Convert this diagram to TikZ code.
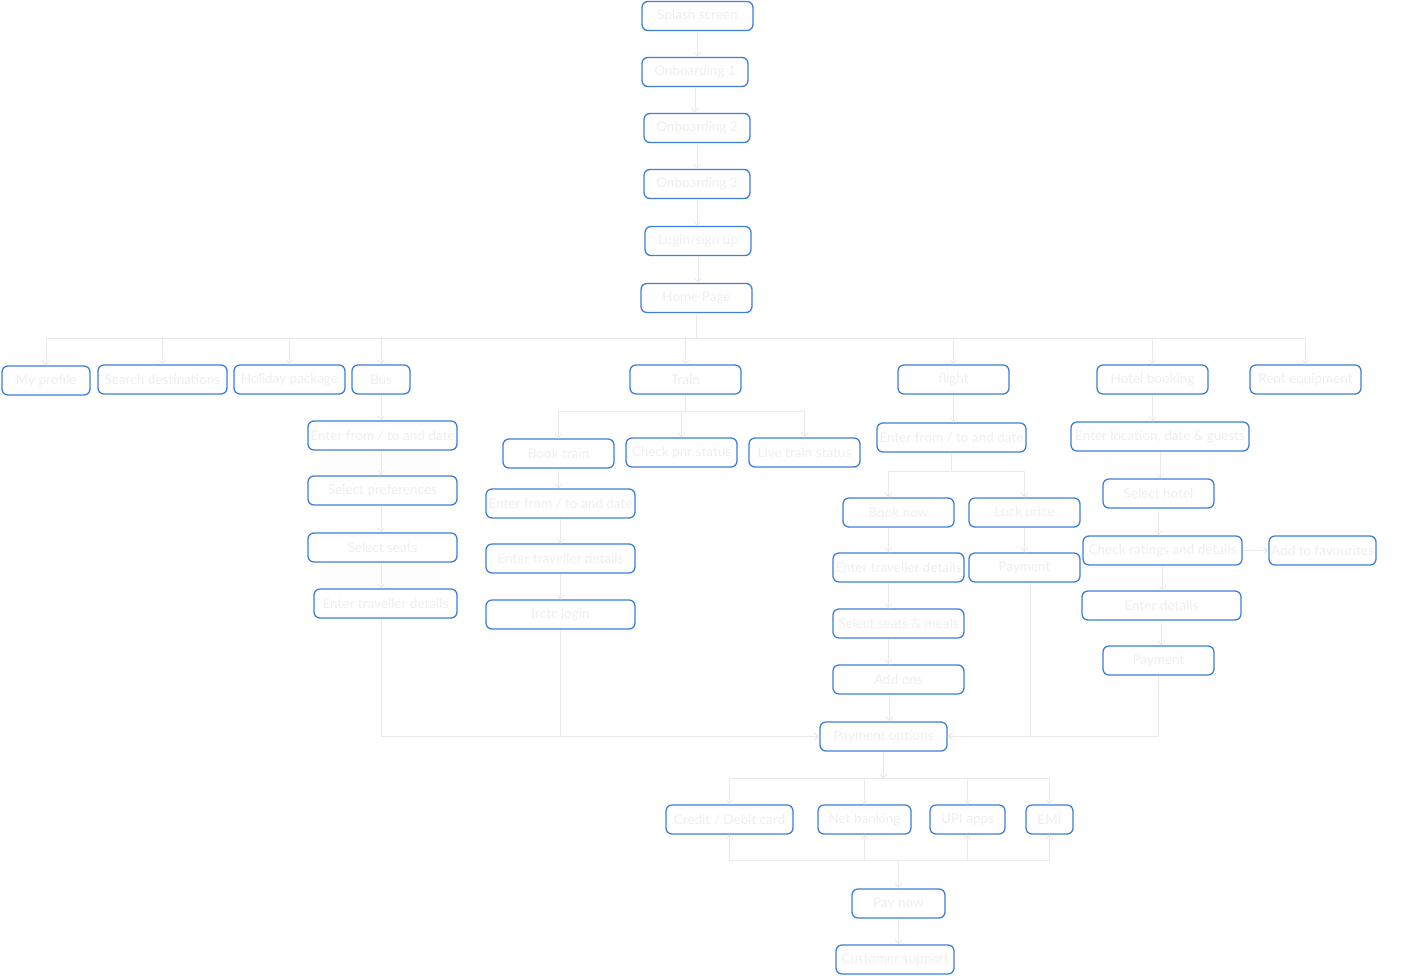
\documentclass[tikz,border=0pt]{standalone}
\usepackage{fontspec}
\setmainfont{Lato}
\usetikzlibrary{arrows.meta,positioning}
\definecolor{edge}{HTML}{3D7EDB}
\definecolor{txt}{HTML}{EFEFEF}
\definecolor{wire}{HTML}{EAEAEA}
\begin{document}
\begin{tikzpicture}[
  x=1pt, y=-1pt,
  box/.style={draw=edge, line width=1.3pt, rounded corners=6pt, minimum height=29pt, minimum width=#1, inner sep=0pt, text=txt, font=\fontsize{13.5}{15}\selectfont},
  arr/.style={-{Straight Barb[length=4pt,width=7pt]}, color=wire, line width=0.9pt},
  ln/.style={color=wire, line width=0.9pt},
]
\useasboundingbox (0,0) rectangle (1413,975);
\fill[white] (0,0) rectangle (1413,975);

% onboarding column
\node[box=111pt] (splash) at (697.5,16) {Splash screen};
\node[box=106pt] (onb1) at (695,72) {Onboarding 1};
\node[box=106pt] (onb2) at (697,128) {Onboarding 2};
\node[box=106pt] (onb3) at (697,184) {Onboarding 3};
\node[box=106pt] (login) at (698,241) {Login/sign up};
\node[box=111pt] (home) at (696.5,298) {Home Page};

% main menu
\node[box=88pt] (prof) at (46,380.5) {My profile};
\node[box=129pt] (srch) at (162.5,379.5) {Search destinations};
\node[box=111pt] (hol) at (289.5,379.5) {Holiday package};
\node[box=58pt] (bus) at (381,379.5) {Bus};
\node[box=111pt] (train) at (685.5,379.5) {Train};
\node[box=111pt] (flight) at (953.5,379.5) {flight};
\node[box=111pt] (hotel) at (1152.5,379.5) {Hotel booking};
\node[box=111pt] (rent) at (1305.5,379.5) {Rent equipment};

% bus
\node[box=149pt] (busfrom) at (382.5,435.5) {Enter from / to and date};
\node[box=149pt] (buspref) at (382.5,490.5) {Select preferences};
\node[box=149pt] (busseat) at (382.5,547.5) {Select seats};
\node[box=143pt] (bustrav) at (385.5,603.5) {Enter traveller details};

% train
\node[box=111pt] (booktr) at (558.5,453.5) {Book train};
\node[box=111pt] (pnr) at (681.5,452.5) {Check pnr status};
\node[box=111pt] (live) at (804.5,452.5) {Live train status};
\node[box=149pt] (trfrom) at (560.5,503.5) {Enter from / to and date};
\node[box=149pt] (trtrav) at (560.5,558.5) {Enter traveller details};
\node[box=149pt] (irctc) at (560.5,614.5) {Irctc login};

% flight
\node[box=149pt] (flfrom) at (951.5,437.5) {Enter from / to and date};
\node[box=111pt] (booknow) at (898.5,512.5) {Book now};
\node[box=111pt] (lock) at (1024.5,512.5) {Lock price};
\node[box=131pt] (fltrav) at (898.5,567.5) {Enter traveller details};
\node[box=111pt] (flpay) at (1024.5,567.5) {Payment};
\node[box=131pt] (flseat) at (898.5,623.5) {Select seats \& meals};
\node[box=131pt] (addons) at (898.5,679.5) {Add ons};

% hotel
\node[box=178pt] (hotloc) at (1160,436.5) {Enter location, date \& guests};
\node[box=111pt] (selhot) at (1158.5,493.5) {Select hotel};
\node[box=159pt] (rating) at (1162.5,550.5) {Check ratings and details};
\node[box=107pt] (fav) at (1322.5,550.5) {Add to favourites};
\node[box=159pt] (hotdet) at (1161.5,605.5) {Enter details};
\node[box=111pt] (hotpay) at (1158.5,660.5) {Payment};

% payment
\node[box=127pt] (payopt) at (883.5,736.5) {Payment options};
\node[box=127pt] (card) at (729.5,819.5) {Credit / Debit card};
\node[box=93pt] (netb) at (864.5,819.5) {Net banking};
\node[box=75pt] (upi) at (967.5,819.5) {UPI apps};
\node[box=47pt] (emi) at (1049.5,819.5) {EMI};
\node[box=93pt] (paynow) at (898.5,903.5) {Pay now};
\node[box=118pt] (support) at (895,959.5) {Customer support};

% junctions
\coordinate[below=25pt of home] (homej);
\coordinate[below=17pt of train] (trainj);
\coordinate[below=19pt of flfrom] (flj);
\coordinate[below=27pt of payopt] (payj);
\coordinate[above=28pt of paynow] (paynj);

% connectors
\draw[arr] (splash.south) -- (splash.south |- onb1.north);
\draw[arr] (onb1.south) -- (onb1.south |- onb2.north);
\draw[arr] (onb2.south) -- (onb2.south |- onb3.north);
\draw[arr] (onb3.south) -- (onb3.south |- login.north);
\draw[arr] (login.south) -- (login.south |- home.north);
\draw[ln] (home.south) -- (homej);
\foreach \n in {prof,srch,hol,bus,train,flight,hotel,rent}
  \draw[arr] (homej) -| (\n.north);

\draw[arr] (bus.south) -- (bus.south |- busfrom.north);
\draw[arr] (bus.south |- busfrom.south) -- (bus.south |- buspref.north);
\draw[arr] (bus.south |- buspref.south) -- (bus.south |- busseat.north);
\draw[arr] (bus.south |- busseat.south) -- (bus.south |- bustrav.north);

\draw[ln] (train.south) -- (trainj);
\foreach \n in {booktr,pnr,live}
  \draw[arr] (trainj) -| (\n.north);
\draw[arr] (booktr.south) -- (booktr.south |- trfrom.north);
\draw[arr] (trfrom.south) -- (trfrom.south |- trtrav.north);
\draw[arr] (trtrav.south) -- (trtrav.south |- irctc.north);

\draw[arr] (flight.south) -- (flight.south |- flfrom.north);
\draw[ln] (flfrom.south) -- (flj);
\draw[arr] (flj) -| ([xshift=-10pt]booknow.north);
\draw[arr] (flj) -| (lock.north);
\draw[arr] ([xshift=-10pt]booknow.south) -- ([xshift=-10pt]booknow.south |- fltrav.north);
\draw[arr] (lock.south) -- (lock.south |- flpay.north);
\draw[arr] ([xshift=-10pt]fltrav.south) -- ([xshift=-10pt]fltrav.south |- flseat.north);
\draw[arr] ([xshift=-10pt]flseat.south) -- ([xshift=-10pt]flseat.south |- addons.north);
\draw[arr] ([xshift=-9pt]addons.south) -- ([xshift=-9pt]addons.south |- payopt.north);

\draw[arr] (hotel.south) -- (hotel.south |- hotloc.north);
\draw[arr] (hotloc.south) -- (hotloc.south |- selhot.north);
\draw[arr] (selhot.south) -- (selhot.south |- rating.north);
\draw[arr] (rating) -- (fav);
\draw[arr] (rating.south) -- (rating.south |- hotdet.north);
\draw[arr] (hotdet.south) -- (hotdet.south |- hotpay.north);

% into payment options
\draw[arr] (bus.south |- bustrav.south) |- (payopt.west);
\draw[arr] (irctc.south) |- (payopt.west);
\draw[arr] ([xshift=6pt]flpay.south) |- (payopt.east);
\draw[arr] (hotpay.south) |- (payopt.east);

\draw[arr] (payopt.south) -- (payj);
\foreach \n in {card,netb,upi,emi}
  \draw[arr] (payj) -| (\n.north);
\foreach \n in {card,netb,upi,emi}
  \draw[arr] (paynj) -| (\n.south);
\draw[arr] (paynj) -- (paynow.north);
\draw[arr] (paynow.south) -- (paynow.south |- support.north);

\end{tikzpicture}
\end{document}
